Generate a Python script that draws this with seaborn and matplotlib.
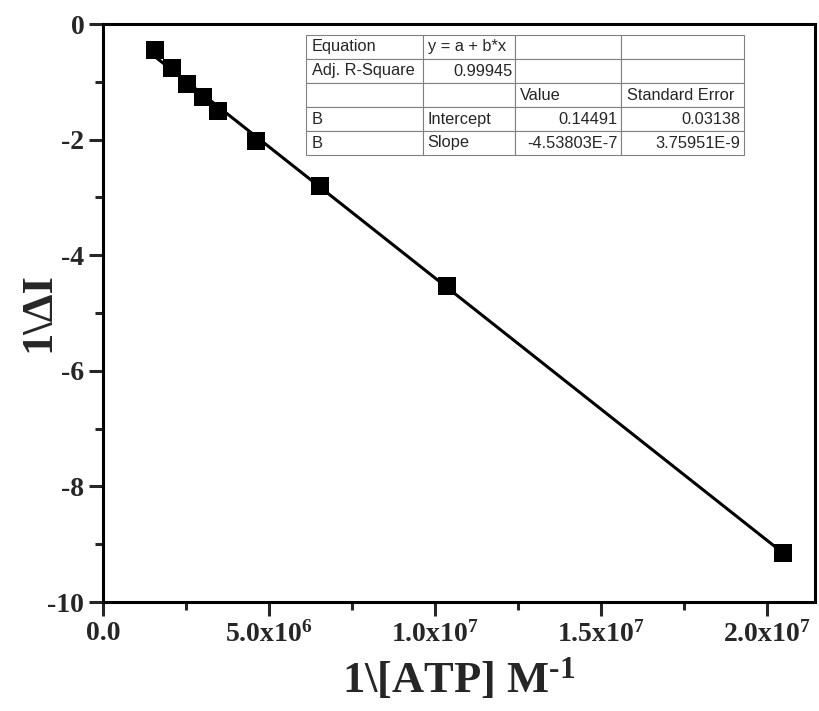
import numpy as np
import pandas as pd
import matplotlib
matplotlib.use("Agg")
import matplotlib.pyplot as plt
import seaborn as sns
from matplotlib.ticker import MultipleLocator

# ---- data ----
inv_atp = [1.57e6, 2.07e6, 2.54e6, 3.00e6, 3.47e6, 4.61e6, 6.54e6, 10.36e6, 20.48e6]
inv_dI = [-0.45, -0.76, -1.04, -1.27, -1.51, -2.02, -2.81, -4.53, -9.15]
fit_intercept = 0.14491
fit_slope = -4.53803e-7
x_ticks = [0.0, 5.0e6, 1.0e7, 1.5e7, 2.0e7]
x_tick_labels = ["0.0", "5.0x10$^{6}$", "1.0x10$^{7}$", "1.5x10$^{7}$", "2.0x10$^{7}$"]
y_ticks = [0, -2, -4, -6, -8, -10]
table_rows = [
    ["Equation", "y = a + b*x", "", ""],
    ["Adj. R-Square", "0.99945", "", ""],
    ["", "", "Value", "Standard Error"],
    ["B", "Intercept", "0.14491", "0.03138"],
    ["B", "Slope", "-4.53803E-7", "3.75951E-9"],
]

sns.set_theme(style="ticks")
plt.rcParams["font.family"] = ["Liberation Serif", "DejaVu Serif"]
plt.rcParams["mathtext.fontset"] = "custom"
plt.rcParams["mathtext.rm"] = "Liberation Serif:bold"
plt.rcParams["mathtext.it"] = "Liberation Serif:bold"
plt.rcParams["mathtext.bf"] = "Liberation Serif:bold"
plt.rcParams["mathtext.default"] = "rm"

df = pd.DataFrame({"x": inv_atp, "y": inv_dI})
xf = np.array([min(inv_atp), max(inv_atp)])
fit_df = pd.DataFrame({"x": xf, "y": fit_intercept + fit_slope * xf})

fig = plt.figure(figsize=(8.19, 7.11), dpi=100)
ax = fig.add_axes([103 / 819, 1 - 602 / 711, 712 / 819, 578 / 711])

sns.lineplot(data=fit_df, x="x", y="y", ax=ax, color="black", linewidth=2.2, zorder=2)
sns.scatterplot(data=df, x="x", y="y", ax=ax, marker="s", s=150, color="black",
                edgecolor="black", linewidth=0, zorder=3)

ax.set_xlim(0, 2.145e7)
ax.set_ylim(-10, 0)
ax.set_xticks(x_ticks)
ax.set_xticklabels(x_tick_labels)
ax.set_yticks(y_ticks)
ax.set_yticklabels([str(v) for v in y_ticks])
ax.xaxis.set_minor_locator(MultipleLocator(2.5e6))
ax.yaxis.set_minor_locator(MultipleLocator(1))
ax.tick_params(which="major", direction="out", length=10, width=2.2, labelsize=20)
ax.tick_params(which="minor", direction="out", length=6, width=2.2)
for lab in ax.get_xticklabels() + ax.get_yticklabels():
    lab.set_fontweight("bold")
for sp in ax.spines.values():
    sp.set_linewidth(2.2)
    sp.set_visible(True)
    sp.set_color("black")

ax.set_xlabel("1\\[ATP] M$^{\\text{-1}}$", fontsize=32, fontweight="bold")
ax.xaxis.set_label_coords(0.5, -(656 - 602) / 578)
ax.set_ylabel("1\\ΔI", fontsize=32, fontweight="bold")
ax.yaxis.set_label_coords(-(103 - 58) / 712, (602 - 312) / 578)

tbl = ax.table(cellText=table_rows, colWidths=[117, 92, 106, 123],
               bbox=[(306 - 103) / 712, (602 - 155) / 578, 438 / 712, 120 / 578])
tbl.auto_set_font_size(False)
for (r, c), cell in tbl.get_celld().items():
    cell.set_edgecolor("#808080")
    cell.set_linewidth(0.8)
    txt = cell.get_text()
    txt.set_fontfamily(["Liberation Sans", "DejaVu Sans"])
    txt.set_fontsize(11.8)
    s = txt.get_text()
    is_num = len(s) > 0 and (s[0].isdigit() or s[0] == "-")
    if is_num:
        cell._loc = "right"
        txt.set_horizontalalignment("right")
        cell.PAD = 0.03
    else:
        cell._loc = "left"
        txt.set_horizontalalignment("left")
        cell.PAD = 0.05

fig.savefig("out.png", dpi=100)
